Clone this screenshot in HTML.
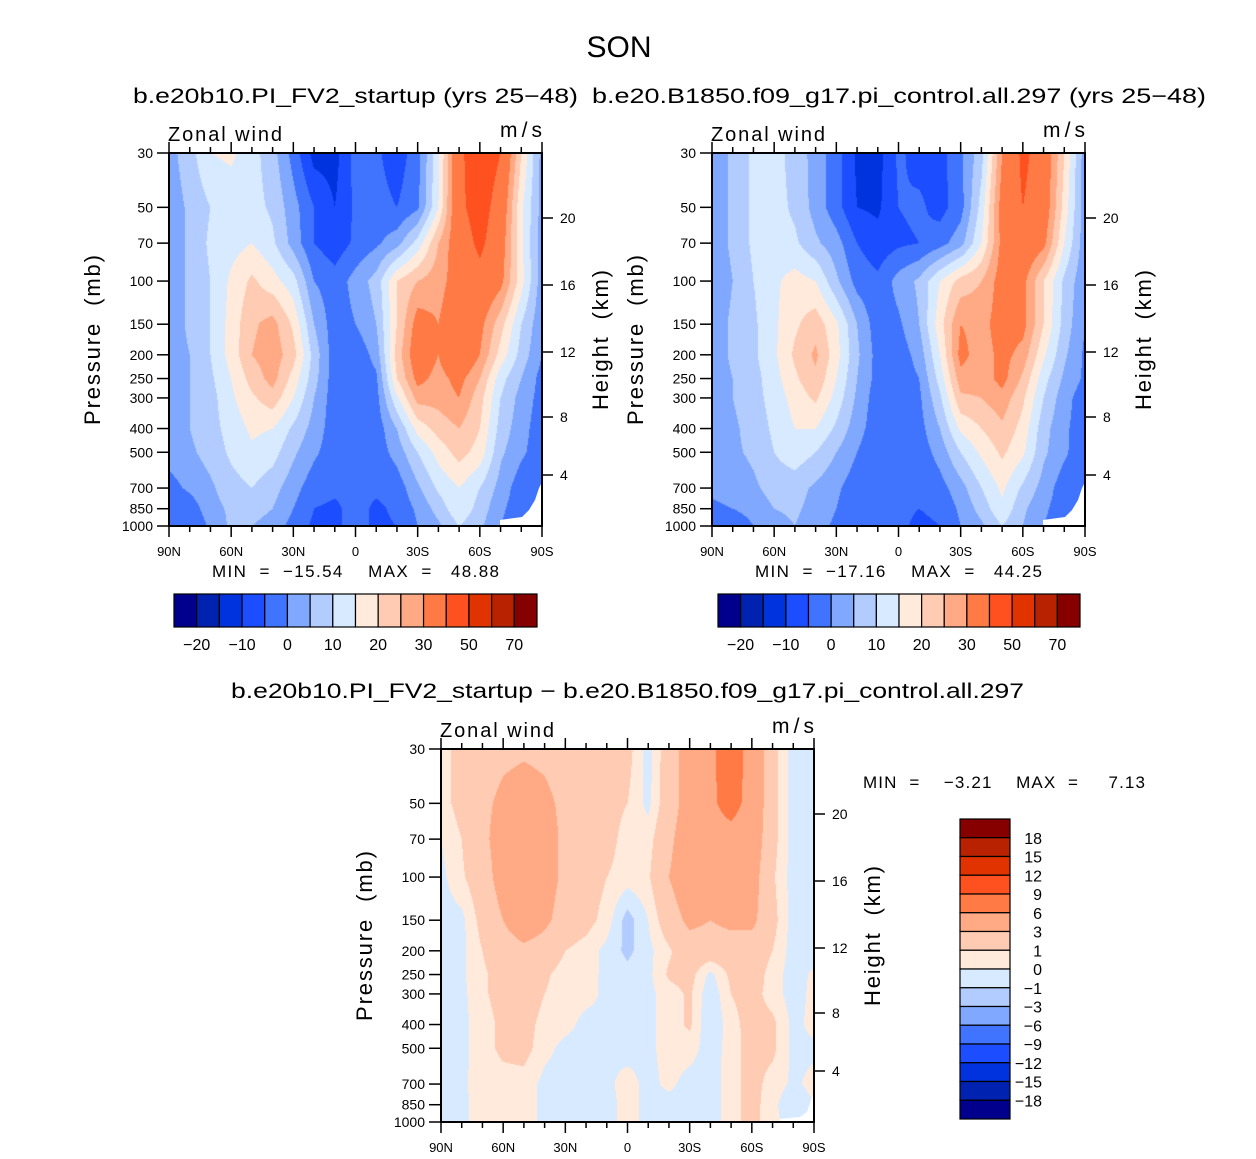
<!DOCTYPE html>
<html><head><meta charset="utf-8">
<style>
html,body{margin:0;padding:0;background:#fff;}
#wrap{position:relative;width:1256px;height:1159px;overflow:hidden;background:#fff;}
canvas{position:absolute;}
svg{position:absolute;left:0;top:0;}
text{font-family:"Liberation Sans",sans-serif;fill:#000;white-space:pre;}
</style></head>
<body>
<div id="wrap">
<canvas id="c1" width="373" height="373" style="left:169px;top:153px"></canvas>
<canvas id="c2" width="373" height="373" style="left:712px;top:153px"></canvas>
<canvas id="c3" width="373" height="373" style="left:441px;top:749px"></canvas>
<svg id="s" width="1256" height="1159" xmlns="http://www.w3.org/2000/svg">
<text x="619" y="57" font-size="30" text-anchor="middle">SON</text>
<text x="133" y="103" font-size="21" textLength="445" lengthAdjust="spacingAndGlyphs">b.e20b10.PI_FV2_startup (yrs 25−48)</text>
<text x="592" y="103" font-size="21" textLength="614" lengthAdjust="spacingAndGlyphs">b.e20.B1850.f09_g17.pi_control.all.297 (yrs 25−48)</text>
<text x="231" y="698" font-size="21" textLength="793" lengthAdjust="spacingAndGlyphs">b.e20b10.PI_FV2_startup − b.e20.B1850.f09_g17.pi_control.all.297</text>
<text x="212" y="577" font-size="17" textLength="287" lengthAdjust="spacing">MIN  =  −15.54    MAX  =   48.88</text>
<text x="755" y="577" font-size="17" textLength="287" lengthAdjust="spacing">MIN  =  −17.16    MAX  =   44.25</text>
<text x="863" y="788" font-size="17" textLength="282" lengthAdjust="spacing">MIN  =    −3.21    MAX  =     7.13</text>
<g id="axes"></g>
<polygon points="542,482 539,488 535,500 529,510 522,517 500,520 500,526 542,526" fill="#fff"/>
<polygon points="1085,482 1082,488 1078,500 1072,510 1065,517 1043,520 1043,526 1085,526" fill="#fff"/>
<polygon points="814,1092 811,1100 807,1112 800,1117 780,1119 780,1122 814,1122" fill="#fff"/>
<g id="frames"></g>
</svg>
</div>
<script>
const pLevels = [30,50,70,100,150,200,250,300,400,500,700,850,1000];
const latLabels = ['90N','60N','30N','0','30S','60S','90S'];
const heightTicks = [20,16,12,8,4];
const heightOffsets = [65,132,199,264,322];
const colors = ['#00008c','#0022b0','#0033dd','#1c4dff','#4074ff','#80a8ff','#b3ccff','#d8eaff','#ffeadb','#ffcbb3','#ffaa85','#ff7a45','#ff5020','#e13300','#b82200','#870000'];
const absLevels = [-20,-15,-10,-5,0,5,10,15,20,25,30,40,50,60,70];
const absLabels = ['−20','−10','0','10','20','30','50','70'];
const diffLevels = [-18,-15,-12,-9,-6,-3,-1,0,1,3,6,9,12,15,18];
const diffLabels = ['18','15','12','9','6','3','1','0','−1','−3','−6','−9','−12','−15','−18'];

// zonal wind, rows = pLevels (30..1000), cols = 90N..90S every 10 deg
const uStartup = [
[3,8,15,16,12,7,-2,-12,-12,-3,-4,-8,-2,14,38,46,40,20,3],
[2,6,10,12,12,9,2,-5,-10,-4,-3,-5,-1,15,38,44,36,16,3],
[2,6,11,13,15,11,3,-5,-8,-4,-1,3,12,25,35,42,34,16,2],
[2,6,10,16,21,17,12,0,-3,2,7,20,25,28,33,37,32,17,2],
[2,6,10,17,24,27,19,5,-3,0,5,20,33,30,35,32,22,10,1],
[2,5,10,17,25,28,22,8,-3,-4,2,22,35,30,38,30,18,8,0],
[2,5,9,15,22,27,18,7,-3,-4,-1,20,32,28,32,25,12,5,-2],
[2,5,8,14,19,23,15,5,-3,-4,-2,14,27,27,30,22,10,3,-2],
[2,5,8,12,16,15,9,3,-3,-4,-3,5,17,22,25,20,8,2,-3],
[2,4,7,11,14,12,6,1,-3,-4,-3,2,10,17,22,18,6,1,-3],
[-2,1,4,8,10,7,2,-3,-4,-4,-4,-3,4,11,15,10,3,-3,-4],
[-5,-3,3,6,7,5,0,-5,-6,-3,-6,-4,1,7,14,8,1,-3,-4],
[-5,-5,1,6,5,3,-2,-6,-6,-3,-6,-5,0,4,10,6,0,-3,-4]];
const uControl = [
[2,6,11,12,8,3,-3,-11,-12,-4,-7,-7,-1,8,30,42,36,20,2],
[2,6,11,12,9,3,-3,-10,-11,-5,-4,-7,-2,12,33,40,35,18,2],
[2,6,11,12,11,6,2,-5,-8,-6,-5,-2,3,15,32,36,32,15,2],
[1,5,10,14,17,15,6,-2,-4,2,6,15,22,25,33,32,20,9,1],
[2,6,9,14,19,23,16,5,-3,-1,5,18,30,28,33,32,20,8,0],
[2,6,9,14,21,26,17,6,-2,-3,2,15,32,27,32,28,16,6,-1],
[2,5,8,13,19,24,15,5,-2,-3,0,12,28,27,32,24,12,4,-1],
[2,5,8,12,17,21,13,4,-3,-4,-1,9,24,25,28,21,10,2,-3],
[2,4,7,11,15,15,9,2,-3,-4,-2,5,16,20,24,18,7,1,-3],
[2,4,6,10,13,10,5,0,-4,-4,-3,2,10,16,21,16,6,1,-4],
[1,2,4,7,7,4,1,-3,-4,-4,-4,-2,3,10,16,9,3,-3,-4],
[-1,0,2,5,6,3,0,-4,-5,-4,-5,-4,1,7,14,6,1,-3,-6],
[-3,-4,0,3,5,2,-1,-5,-5,-4,-6,-5,0,4,10,5,0,-3,-6]];
const uDiff = [
[0.5,1.5,2,2.5,2.7,2.5,2,2,2,1.5,-0.5,2,4,5.5,7.5,5,1.5,-0.5,-0.5],
[0.5,1.5,2.5,3.5,4,3.5,2.5,2,1.5,1,-0.3,2,4,5.5,7,5,1.5,-0.5,-0.5],
[0,1,2.5,4,4.5,4,2.5,2,1.5,0.5,0.5,2.5,4.5,5,5,4.5,1.5,-0.5,-0.5],
[-0.3,0.8,2,4,4.5,4,2.5,1.8,1,0.5,0.8,3,4.5,5,5,4,1.2,-0.5,-0.5],
[-0.5,-0.3,1.5,3,4.5,3.5,2,1.5,0.5,-1.5,0,2,3.5,3,3.5,3.5,1.5,-0.5,-0.5],
[-0.5,-0.3,1,2,2.5,2,1,0.5,-0.3,-1.3,-0.3,0.8,2,2,2,2,1,-0.5,-0.5],
[-0.5,-0.2,0.8,1.5,1.8,1.2,0.5,0.3,-0.2,-0.6,-0.3,1.2,1.5,-0.3,1.3,1.8,0.5,-0.5,0.2],
[-0.5,-0.3,0.8,1.5,1.8,1,0.5,0.3,-0.2,-0.5,-0.3,0.5,1.2,-0.8,1,1.5,0.5,-0.5,0.3],
[-0.5,-0.3,0.5,1.3,1.5,0.6,0.3,-0.3,-0.2,-0.5,-0.3,0.5,1.2,-1,0.6,1.5,1.3,-0.3,0.3],
[-0.5,-0.3,0.5,1.3,1.5,0.3,-0.3,-0.3,-0.2,-0.5,-0.3,0.5,0.5,-0.6,0.5,1.5,1.3,-0.3,-0.2],
[-0.5,-0.2,0.5,0.5,0.5,-0.3,-0.5,-0.5,-0.3,0.5,-0.4,0.3,-0.5,-0.5,0.5,1.5,0.5,-0.2,0.3],
[-0.5,-0.3,0.5,0.5,0.5,-0.3,-0.5,-1,-0.5,0.5,-0.4,-0.5,-0.5,-0.5,0.5,1.5,0.3,-0.8,0],
[-0.5,-0.3,0.5,0.5,0.5,-0.3,-0.5,-0.8,-0.5,0.5,-0.4,-0.5,-0.5,-0.5,0.5,1.5,0.3,-0.5,-0.3]];

const S = 373, LOGR = Math.log10(1000/30);
const NS = 'http://www.w3.org/2000/svg';
const axes = document.getElementById('axes');
const frames = document.getElementById('frames');
function yOf(p){ return S*(1 - Math.log10(1000/p)/LOGR); }
function hex(c){ return [parseInt(c.substr(1,2),16),parseInt(c.substr(3,2),16),parseInt(c.substr(5,2),16)]; }
const rgb = colors.map(hex);
function colorIndex(v, lev){ let k=0; while(k<lev.length && v>=lev[k]) k++; return k; }

function fill(id, data, lev){
  const cv = document.getElementById(id), ctx = cv.getContext('2d');
  const img = ctx.createImageData(S,S);
  const nc = data[0].length;
  for(let py=0; py<S; py++){
    const lp = Math.log10(1000) - (1-(py+0.5)/S)*LOGR;
    let i=0; while(i<pLevels.length-2 && Math.log10(pLevels[i+1])<lp) i++;
    const l0=Math.log10(pLevels[i]), l1=Math.log10(pLevels[i+1]);
    const ty=Math.min(1,Math.max(0,(lp-l0)/(l1-l0)));
    for(let px=0; px<S; px++){
      const fx=(px+0.5)/S*(nc-1);
      const j=Math.min(nc-2,Math.floor(fx)), tx=fx-j;
      const a=data[i][j]*(1-tx)+data[i][j+1]*tx;
      const b=data[i+1][j]*(1-tx)+data[i+1][j+1]*tx;
      const v=a*(1-ty)+b*ty;
      const c=rgb[colorIndex(v,lev)], o=(py*S+px)*4;
      img.data[o]=c[0]; img.data[o+1]=c[1]; img.data[o+2]=c[2]; img.data[o+3]=255;
    }
  }
  ctx.putImageData(img,0,0);
}

function el(tag, attrs, parent){
  const e=document.createElementNS(NS,tag);
  for(const k in attrs) e.setAttribute(k,attrs[k]);
  (parent||axes).appendChild(e); return e;
}
function txt(x,y,s,size,anchor,parent){
  const t=el('text',{x:x,y:y,'font-size':size,'text-anchor':anchor||'start'},parent);
  t.textContent=s; return t;
}

function axesFor(ox, oy, name){
  const g=el('g',{},frames);
  
  
  el('rect',{x:ox,y:oy,width:S,height:S,fill:'none',stroke:'#000','stroke-width':2},g);
  pLevels.forEach(p=>{
    const y=oy+yOf(p);
    el('line',{x1:ox-12,y1:y,x2:ox,y2:y,stroke:'#000','stroke-width':1.5},g);
    const t=txt(ox-16,y+5,String(p),14,'end',g);
    
    
  });
  for(let k=0;k<=18;k++){
    const x=ox+k*S/18, major=(k%3===0), len=major?11:6;
    el('line',{x1:x,y1:oy+S,x2:x,y2:oy+S+len,stroke:'#000','stroke-width':1.5},g);
    el('line',{x1:x,y1:oy,x2:x,y2:oy-len,stroke:'#000','stroke-width':1.5},g);
    if(major){
      const t=txt(x,oy+S+30,latLabels[k/3],13,'middle',g);
      
      
    }
  }
  heightTicks.forEach((h,i)=>{
    const y=oy+heightOffsets[i];
    el('line',{x1:ox+S,y1:y,x2:ox+S+11,y2:y,stroke:'#000','stroke-width':1.5},g);
    const t=txt(ox+S+18,y+5,String(h),14,'start',g);
    
    
  });
  const zt=txt(ox-1,oy-12,'Zonal wind',20,'start',g);
  zt.setAttribute('textLength','114');
  zt.setAttribute('lengthAdjust','spacing');
  
  
  const ut=txt(ox+S-42,oy-16,'m/s',21,'start',g);
  ut.setAttribute('textLength','42');
  ut.setAttribute('lengthAdjust','spacing');
  
  
  const yt=txt(0,0,'Pressure  (mb)',22,'middle',g);
  yt.setAttribute('textLength','170');
  yt.setAttribute('lengthAdjust','spacing');
  yt.setAttribute('transform','translate('+(ox-69)+','+(oy+187)+') rotate(-90)');
  
  
  const ht=txt(0,0,'Height  (km)',22,'middle',g);
  ht.setAttribute('textLength','140');
  ht.setAttribute('lengthAdjust','spacing');
  ht.setAttribute('transform','translate('+(ox+S+66)+','+(oy+187)+') rotate(-90)');
  
  
}

function hBar(x0,y0,w,h,name){
  const g=el('g',{},frames);
  
  
  const bw=w/colors.length;
  colors.forEach((c,i)=>{
    const r=el('rect',{x:x0+i*bw,y:y0,width:bw,height:h,fill:c,stroke:'#000','stroke-width':1.2},g);
    
    
  });
  absLabels.forEach((s,i)=>{
    const t=txt(x0+(2*i+1)*bw,y0+h+23,s,16,'middle',g);
    
    
  });
}
function vBar(x0,y0,w,h){
  const g=el('g',{},frames);
  
  
  const bh=h/colors.length;
  colors.slice().reverse().forEach((c,i)=>{
    const r=el('rect',{x:x0,y:y0+i*bh,width:w,height:bh,fill:c,stroke:'#000','stroke-width':1.2},g);
    
    
  });
  diffLabels.forEach((s,i)=>{
    const t=txt(x0+w+32,y0+(i+1)*bh+6,s,16,'end',g);
    
    
  });
}

fill('c1',uStartup,absLevels);
fill('c2',uControl,absLevels);
fill('c3',uDiff,diffLevels);
axesFor(169,153,'startup');
axesFor(712,153,'control');
axesFor(441,749,'difference');
hBar(174,594,363,33,'startup-colorbar');
hBar(718,594,362,33,'control-colorbar');
vBar(960,819,50,300);
</script>
</body></html>
